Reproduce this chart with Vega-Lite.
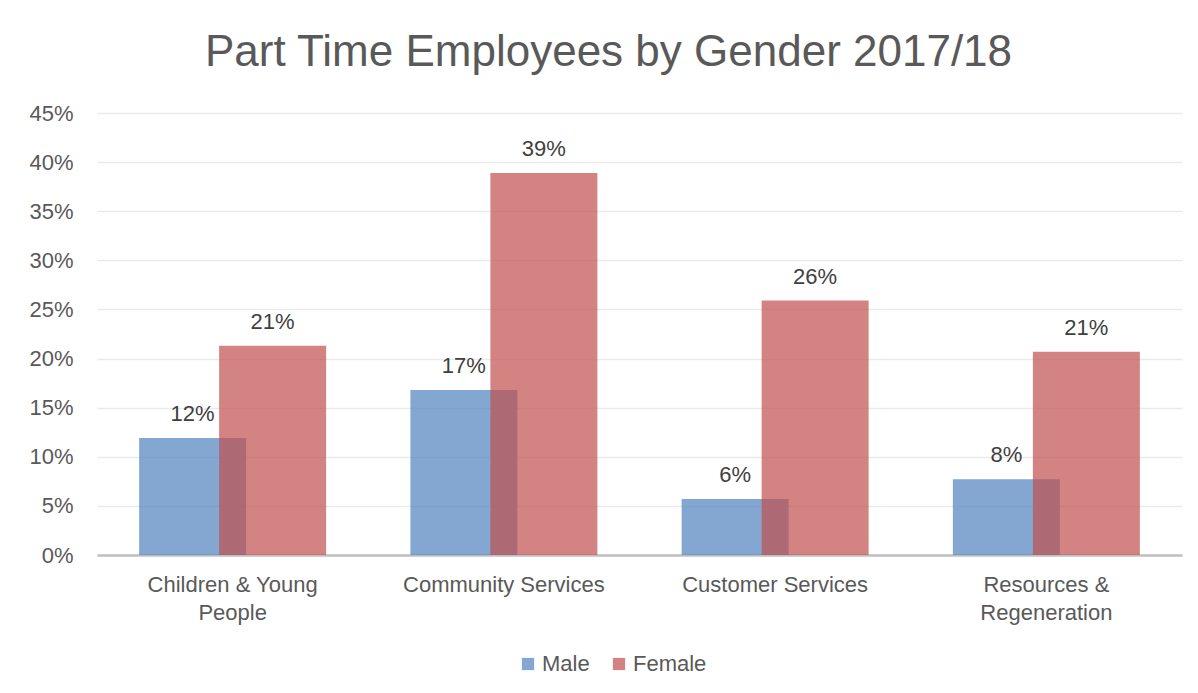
{
  "$schema": "https://vega.github.io/schema/vega-lite/v6.json",
  "autosize": "none",
  "width": 1085,
  "height": 442,
  "padding": {"left": 97, "top": 113, "right": 16, "bottom": 138},
  "background": "white",
  "config": {
    "font": "Liberation Sans",
    "view": {"stroke": null}
  },
  "title": {
    "text": "Part Time Employees by Gender 2017/18",
    "fontSize": 44,
    "font": "Liberation Sans",
    "fontWeight": "normal",
    "color": "#595959",
    "anchor": "middle",
    "dx": -31,
    "offset": 27
  },
  "data": {
    "values": [
      {"category": "Children & Young People", "gender": "Male", "value": 0.119},
      {"category": "Children & Young People", "gender": "Female", "value": 0.213},
      {"category": "Community Services", "gender": "Male", "value": 0.168},
      {"category": "Community Services", "gender": "Female", "value": 0.389},
      {"category": "Customer Services", "gender": "Male", "value": 0.057},
      {"category": "Customer Services", "gender": "Female", "value": 0.259},
      {"category": "Resources & Regeneration", "gender": "Male", "value": 0.077},
      {"category": "Resources & Regeneration", "gender": "Female", "value": 0.207}
    ]
  },
  "encoding": {
    "x": {
      "field": "category",
      "type": "nominal",
      "sort": null,
      "scale": {"paddingInner": 0, "paddingOuter": 0},
      "axis": {
        "title": null,
        "labelAngle": 0,
        "labelFontSize": 22,
        "labelColor": "#595959",
        "labelPadding": 19,
        "labelLineHeight": 28,
        "labelLimit": 0,
        "ticks": false,
        "domainColor": "#bfbfbf",
        "domainWidth": 2.5,
        "labelExpr": "datum.value == 'Children & Young People' ? ['Children & Young', 'People'] : datum.value == 'Resources & Regeneration' ? ['Resources &', 'Regeneration'] : datum.value"
      }
    },
    "y": {
      "field": "value",
      "type": "quantitative",
      "scale": {"domain": [0, 0.45], "nice": false},
      "axis": {
        "title": null,
        "format": ".0%",
        "values": [0, 0.05, 0.1, 0.15, 0.2, 0.25, 0.3, 0.35, 0.4, 0.45],
        "labelFontSize": 22,
        "labelColor": "#595959",
        "labelPadding": 24,
        "ticks": false,
        "domain": false,
        "gridColor": "#ebebeb",
        "gridWidth": 1.5
      }
    }
  },
  "layer": [
    {
      "transform": [{"filter": "datum.gender == 'Male'"}],
      "mark": {"type": "bar", "width": 107, "xOffset": -40, "opacity": 0.7},
      "encoding": {
        "color": {
          "field": "gender",
          "type": "nominal",
          "scale": {"domain": ["Male", "Female"], "range": ["#4F81BD", "#C0504D"]},
          "legend": {
            "title": null,
            "orient": "none",
            "legendX": 420,
            "legendY": 540,
            "direction": "horizontal",
            "symbolType": "square",
            "symbolSize": 150,
            "symbolOpacity": 0.7,
            "symbolStrokeWidth": 0,
            "labelFontSize": 22,
            "labelColor": "#595959",
            "columnPadding": 18,
            "labelOffset": 3
          }
        }
      }
    },
    {
      "transform": [{"filter": "datum.gender == 'Female'"}],
      "mark": {"type": "bar", "width": 107, "xOffset": 40, "opacity": 0.7},
      "encoding": {
        "color": {"field": "gender", "type": "nominal"}
      }
    },
    {
      "transform": [{"filter": "datum.gender == 'Male'"}],
      "mark": {"type": "text", "xOffset": -40, "dy": -12, "baseline": "bottom", "fontSize": 22, "color": "#404040"},
      "encoding": {
        "text": {"field": "value", "type": "quantitative", "format": ".0%"}
      }
    },
    {
      "transform": [{"filter": "datum.gender == 'Female'"}],
      "mark": {"type": "text", "xOffset": 40, "dy": -12, "baseline": "bottom", "fontSize": 22, "color": "#404040"},
      "encoding": {
        "text": {"field": "value", "type": "quantitative", "format": ".0%"}
      }
    }
  ]
}
